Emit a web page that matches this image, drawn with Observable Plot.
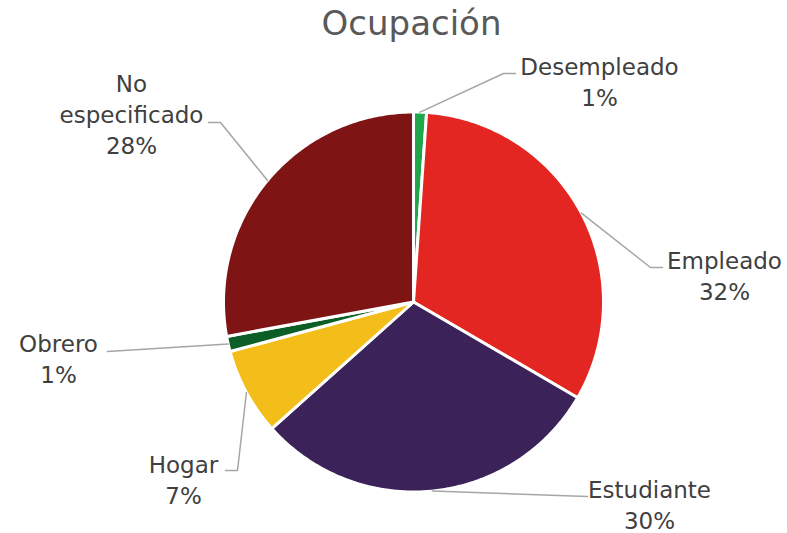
<!DOCTYPE html>
<html><head><meta charset="utf-8">
<script src="https://cdn.jsdelivr.net/npm/d3@7"></script>
<script src="https://cdn.jsdelivr.net/npm/@observablehq/plot@0.6"></script>
<style>body{margin:0;background:#fff}</style>
</head><body><div id="chart"></div>
<script>
// ---- data ----
const title = "Ocupación";
const categories = ["Desempleado", "Empleado", "Estudiante", "Hogar", "Obrero", "No especificado"];
const values = [1.1, 32.3, 30.0, 7.4, 1.3, 27.9];
const labelNames = ["Desempleado", "Empleado", "Estudiante", "Hogar", "Obrero", "No\nespecificado"];
const colors = ["#20a64a", "#e42622", "#3b2259", "#f3be1a", "#0b5e26", "#7f1414"];

// ---- layout (pixels) ----
const W = 787, H = 533, cx = 413, cy = 301.5, R = 190;
const labelPos = [[599, 80], [724, 274.5], [649, 503], [183, 478], [58, 357.5], [131, 113]];
const leaderBend = [[[503, 73], [515, 73]], [[650, 267], [662, 267]], [[587, 496]], [[237, 470], [225, 470]], [[107, 351]], [[220, 122], [208, 122]]];
const font = "DejaVu Sans";

const data = categories.map((name, i) => ({name, value: values[i]}));
const arcs = d3.pie().sort(null).value(d => d.value)(data);

const slicePts = arcs.flatMap(s => {
  const name = s.data.name;
  const n = Math.max(2, Math.ceil((s.endAngle - s.startAngle) / 0.01));
  const pts = [{name, x: cx, y: cy}];
  for (let i = 0; i <= n; i++) {
    const a = s.startAngle + (s.endAngle - s.startAngle) * i / n;
    pts.push({name, x: cx + R * Math.sin(a), y: cy - R * Math.cos(a)});
  }
  pts.push({name, x: cx, y: cy});
  return pts;
});

const leaderPts = arcs.flatMap((s, i) => {
  const name = s.data.name;
  const a = (s.startAngle + s.endAngle) / 2;
  return [{name, x: cx + R * Math.sin(a), y: cy - R * Math.cos(a)},
          ...leaderBend[i].map(([x, y]) => ({name, x, y}))];
});

const labels = arcs.map((s, i) => ({
  x: labelPos[i][0], y: labelPos[i][1],
  text: labelNames[i] + "\n" + Math.round(s.data.value) + "%"
}));

const chart = Plot.plot({
  width: W, height: H, margin: 0,
  x: {domain: [0, W], range: [0, W], axis: null},
  y: {domain: [0, H], range: [0, H], axis: null},
  color: {domain: categories, range: colors},
  style: {fontFamily: font, background: "#fff"},
  marks: [
    Plot.line(slicePts, {x: "x", y: "y", z: "name", fill: "name", stroke: "white", strokeWidth: 3, curve: "linear"}),
    Plot.line(leaderPts, {x: "x", y: "y", z: "name", stroke: "#a6a6a6", strokeWidth: 1.5}),
    Plot.text(labels, {x: "x", y: "y", text: "text", fontSize: 23, lineHeight: 1.35, fill: "#404040", fontFamily: font}),
    Plot.text([title], {x: () => 411, y: () => 24, text: d => d, fontSize: 34, fill: "#595959", fontFamily: font})
  ]
});
document.getElementById("chart").appendChild(chart);
</script>
</body></html>
